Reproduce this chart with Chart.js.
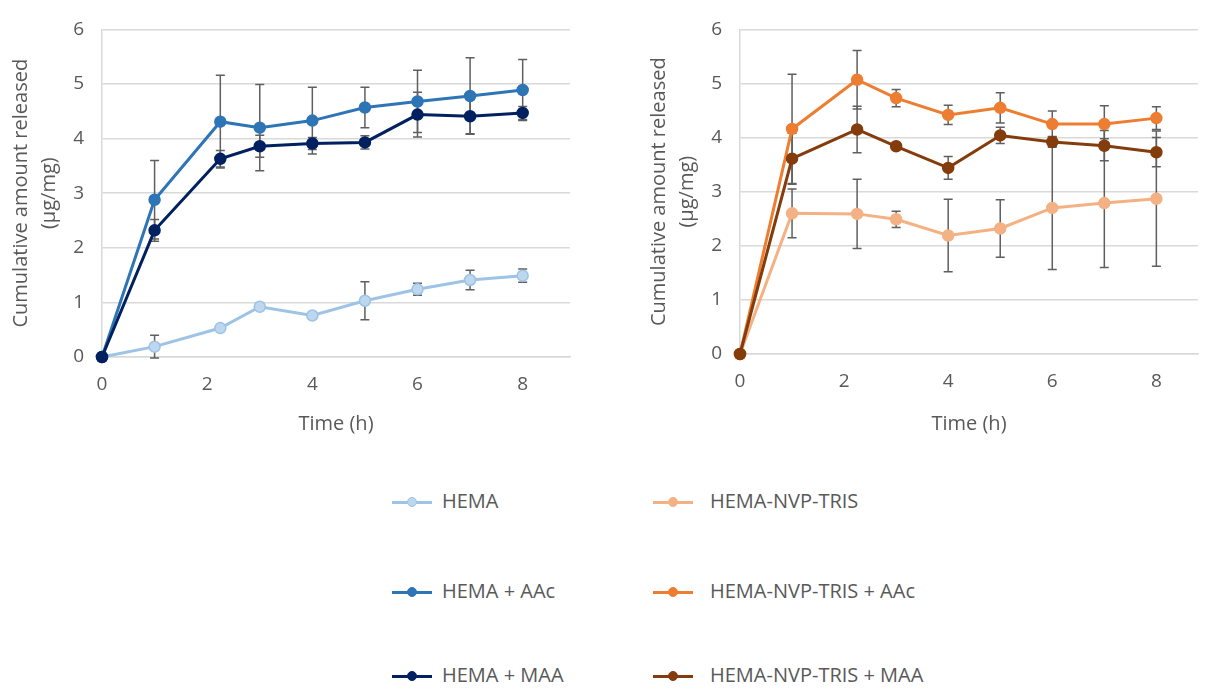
<!DOCTYPE html>
<html>
<head>
<meta charset="utf-8">
<script src="https://cdn.jsdelivr.net/npm/chart.js@4.4.0/dist/chart.umd.min.js"></script>
<style>
  body { margin: 0; background: #fff; font-family: "Open Sans", sans-serif; overflow: hidden; }
  #wrapLeft { position: absolute; left: 0; top: 0; width: 600px; height: 440px; }
  #wrapRight { position: absolute; left: 600px; top: 0; width: 605px; height: 440px; }
  .leg { position: absolute; height: 24px; color: #595959; font-size: 20px; line-height: 24px; white-space: nowrap; }
  .leg .ln { position: absolute; left: 0; top: 10.5px; width: 40px; height: 3px; }
  .leg .dot { position: absolute; left: 15px; top: 7px; width: 10px; height: 10px; border-radius: 50%; box-sizing: border-box; }
  .leg .txt { position: absolute; top: -1px; }
</style>
</head>
<body>
<div id="wrapLeft"><canvas id="chartLeft"></canvas></div>
<div id="wrapRight"><canvas id="chartRight"></canvas></div>
<div id="legend"></div>
<script>
// time points (h)
const times = [0, 1, 2.25, 3, 4, 5, 6, 7, 8];
const yTicks = [0, 1, 2, 3, 4, 5, 6];

// left chart: HEMA series
const hema      = [0, 0.19, 0.53, 0.92, 0.76, 1.03, 1.24, 1.41, 1.49];
const hemaErr   = [0, 0.21, 0, 0, 0, 0.35, 0.11, 0.18, 0.12];
const hemaAAc   = [0, 2.88, 4.31, 4.20, 4.33, 4.57, 4.68, 4.78, 4.89];
const hemaAAcErr= [0, 0.72, 0.85, 0.79, 0.61, 0.37, 0.57, 0.70, 0.56];
const hemaMAA   = [0, 2.32, 3.63, 3.86, 3.91, 3.93, 4.44, 4.41, 4.47];
const hemaMAAErr= [0, 0.20, 0.15, 0.20, 0.11, 0.12, 0.41, 0.32, 0.12];

// right chart: HEMA-NVP-TRIS series
const nvp       = [0, 2.60, 2.59, 2.49, 2.19, 2.32, 2.70, 2.79, 2.87];
const nvpErr    = [0, 0.45, 0.64, 0.15, 0.67, 0.53, 1.14, 1.19, 1.25];
const nvpAAc    = [0, 4.16, 5.07, 4.73, 4.42, 4.55, 4.25, 4.25, 4.36];
const nvpAAcErr = [0, 1.01, 0.54, 0.16, 0.18, 0.28, 0.24, 0.34, 0.21];
const nvpMAA    = [0, 3.61, 4.15, 3.84, 3.44, 4.04, 3.92, 3.85, 3.73];
const nvpMAAErr = [0, 0.47, 0.43, 0.05, 0.21, 0.15, 0.10, 0.28, 0.27];

const leftNames  = ['HEMA', 'HEMA + AAc', 'HEMA + MAA'];
const rightNames = ['HEMA-NVP-TRIS', 'HEMA-NVP-TRIS + AAc', 'HEMA-NVP-TRIS + MAA'];
const leftColors  = ['#9dc3e6', '#2e75b6', '#002060'];
const leftFills   = ['#bdd7ee', '#2e75b6', '#002060'];
const rightColors = ['#f4b183', '#ed7d31', '#843c0c'];

const textGray = '#595959';
const gridGray = '#d9d9d9';

function pts(vals) {
  return vals.map((v, i) => ({x: times[i], y: v}));
}

function makeSet(label, vals, errs, color, fill, order) {
  return {
    label: label,
    data: pts(vals),
    errors: errs,
    borderColor: color,
    backgroundColor: fill,
    pointBackgroundColor: fill,
    pointBorderColor: color,
    pointBorderWidth: 1.5,
    pointRadius: 5.5,
    borderWidth: 3,
    tension: 0,
    clip: false,
    order: order
  };
}

// error bars, drawn behind the lines
const errorBars = {
  id: 'errorBars',
  beforeDatasetsDraw(chart) {
    const ctx = chart.ctx;
    const xs = chart.scales.x, ys = chart.scales.y;
    ctx.save();
    ctx.strokeStyle = '#5f5f5f';
    ctx.lineWidth = 1.5;
    chart.data.datasets.forEach(ds => {
      ds.data.forEach((p, i) => {
        const e = ds.errors[i];
        if (!e) return;
        const px = xs.getPixelForValue(p.x);
        const top = ys.getPixelForValue(p.y + e);
        const bot = ys.getPixelForValue(p.y - e);
        ctx.beginPath();
        ctx.moveTo(px, top); ctx.lineTo(px, bot);
        ctx.moveTo(px - 4.5, top); ctx.lineTo(px + 4.5, top);
        ctx.moveTo(px - 4.5, bot); ctx.lineTo(px + 4.5, bot);
        ctx.stroke();
      });
    });
    ctx.restore();
  }
};

function makeOptions(xMax, pad, xHeight) {
  return {
    responsive: true,
    maintainAspectRatio: false,
    animation: false,
    layout: { padding: pad },
    plugins: { legend: { display: false }, tooltip: { enabled: false } },
    scales: {
      x: {
        type: 'linear', min: 0, max: xMax,
        grid: { display: false, drawTicks: false },
        border: { color: gridGray, width: 1.5 },
        ticks: { stepSize: 2, includeBounds: false, color: textGray, padding: 16, font: { family: 'Open Sans', size: 19 } },
        title: { display: true, text: 'Time (h)', color: textGray, padding: { top: 8 }, font: { family: 'Open Sans', size: 20 } },
        afterFit: s => { s.height = xHeight; }
      },
      y: {
        min: 0, max: 6,
        afterBuildTicks: s => { s.ticks = yTicks.map(v => ({value: v})); },
        grid: { color: gridGray, lineWidth: 1.5, drawTicks: false },
        border: { color: gridGray, width: 1.5 },
        ticks: { color: textGray, padding: 18, font: { family: 'Open Sans', size: 19 } },
        title: { display: true, text: ['Cumulative amount released', '(µg/mg)'], color: textGray, padding: { top: 7, bottom: 0 }, font: { family: 'Open Sans', size: 20, lineHeight: 1.4 } },
        afterFit: s => { s.width = 102; }
      }
    }
  };
}

new Chart(document.getElementById('chartLeft'), {
  type: 'line',
  data: {
    datasets: [
      makeSet(leftNames[0], hema, hemaErr, leftColors[0], leftFills[0], 2),
      makeSet(leftNames[1], hemaAAc, hemaAAcErr, leftColors[1], leftFills[1], 1),
      makeSet(leftNames[2], hemaMAA, hemaMAAErr, leftColors[2], leftFills[2], 0)
    ]
  },
  options: makeOptions(8.9, { top: 29, right: 30, left: 0, bottom: 0 }, 83),
  plugins: [errorBars]
});

new Chart(document.getElementById('chartRight'), {
  type: 'line',
  data: {
    datasets: [
      makeSet(rightNames[0], nvp, nvpErr, rightColors[0], rightColors[0], 2),
      makeSet(rightNames[1], nvpAAc, nvpAAcErr, rightColors[1], rightColors[1], 1),
      makeSet(rightNames[2], nvpMAA, nvpMAAErr, rightColors[2], rightColors[2], 0)
    ]
  },
  options: makeOptions(8.8, { top: 22, right: 0, left: 38, bottom: 0 }, 86),
  plugins: [errorBars]
});

// legend in two columns under the charts
const legend = document.getElementById('legend');
const rowsY = [502, 592, 676];
function addLegend(name, color, fill, x, y, gap) {
  const el = document.createElement('div');
  el.className = 'leg';
  el.style.left = x + 'px';
  el.style.top = (y - 12) + 'px';
  el.innerHTML = '<span class="ln" style="background:' + color + '"></span>' +
    '<span class="dot" style="background:' + fill + ';border:1.5px solid ' + color + '"></span>' +
    '<span class="txt" style="left:' + gap + 'px">' + name + '</span>';
  legend.appendChild(el);
}
for (let i = 0; i < 3; i++) {
  addLegend(leftNames[i], leftColors[i], leftFills[i], 392, rowsY[i], 50);
  addLegend(rightNames[i], rightColors[i], rightColors[i], 653, rowsY[i], 57);
}
</script>
</body>
</html>
